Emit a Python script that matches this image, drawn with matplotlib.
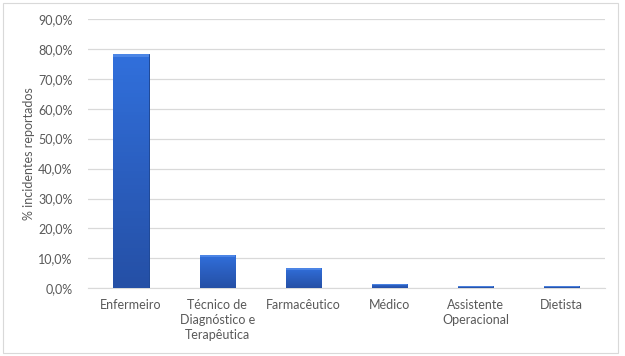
import numpy as np
import matplotlib
matplotlib.use("Agg")
import matplotlib.pyplot as plt
from matplotlib.colors import LinearSegmentedColormap
from matplotlib.patches import Rectangle
from matplotlib.ticker import FuncFormatter

categories = ["Enfermeiro", "Técnico de\nDiagnóstico e\nTerapêutica", "Farmacêutico",
              "Médico", "Assistente\nOperacional", "Dietista"]
values = [78.2, 11.3, 6.9, 1.5, 0.8, 0.8]
y_ticks = [0, 10, 20, 30, 40, 50, 60, 70, 80, 90]

text_col = "#595959"
plt.rcParams["font.family"] = ["Lato", "DejaVu Sans"]

fig = plt.figure(figsize=(6.25, 3.56), dpi=100)
fig.patch.set_facecolor("white")
ax = fig.add_axes([0.1408, 0.19, 0.827, 0.757])

x = np.arange(len(categories))
bars = ax.bar(x, values, width=0.41, color="#2d62c4", edgecolor="#1d4796", linewidth=0.7, zorder=3)

# vertical gradient inside each bar (lighter top, darker bottom)
cmap = LinearSegmentedColormap.from_list("bev", ["#2550a6", "#2b5fc0", "#3170dc"])
grad = np.linspace(0, 1, 64).reshape(-1, 1)
for b in bars:
    x0, w, h = b.get_x(), b.get_width(), b.get_height()
    im = ax.imshow(grad, cmap=cmap, aspect="auto", origin="lower",
                   extent=[x0, x0 + w, 0, h], zorder=3.1)
    im.set_clip_path(b)
    # bevel strip at the top
    top = min(0.8, h * 0.35)
    ax.add_patch(Rectangle((x0, h - top), w, top, facecolor="#5f95ee", alpha=0.6,
                           edgecolor="none", zorder=3.2))

ax.set_xlim(-0.5, len(categories) - 0.5)
ax.set_ylim(0, 90)
ax.set_yticks(y_ticks)
ax.yaxis.set_major_formatter(FuncFormatter(lambda v, p: f"{v:.1f}%".replace(".", ",")))
ax.set_xticks(x)
ax.set_xticklabels(categories, linespacing=1.3)

ax.grid(axis="y", color="#d9d9d9", linewidth=0.9, zorder=0)
for s in ["top", "right", "left"]:
    ax.spines[s].set_visible(False)
ax.spines["bottom"].set_color("#d9d9d9")
ax.tick_params(axis="both", length=0, colors=text_col, labelsize=9)
ax.tick_params(axis="y", pad=11)
ax.tick_params(axis="x", pad=8)

ax.set_ylabel("% incidentes reportados", color=text_col, fontsize=9, labelpad=2)

# chart border
fig.add_artist(Rectangle((3 / 625, 3 / 356), 615 / 625, 350 / 356, transform=fig.transFigure,
                         fill=False, edgecolor="#d9d9d9", linewidth=0.8))

fig.savefig("out.png", dpi=100)
